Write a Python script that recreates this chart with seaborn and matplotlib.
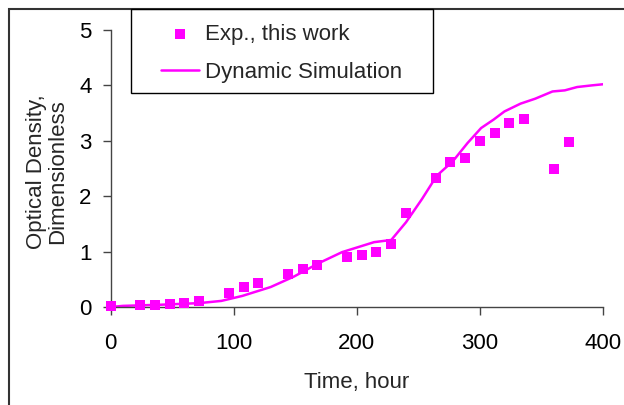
import matplotlib
matplotlib.use("Agg")
import matplotlib.pyplot as plt
import seaborn as sns
import pandas as pd
from matplotlib.patches import Rectangle

# Experimental data
exp_time = [0, 24, 36, 48, 60, 72, 96, 108, 120, 144, 156, 168, 192, 204, 216, 228,
            240, 264, 276, 288, 300, 312, 324, 336, 360, 372]
exp_od = [0.01, 0.03, 0.03, 0.05, 0.08, 0.10, 0.25, 0.36, 0.43, 0.60, 0.69, 0.75,
          0.90, 0.94, 0.99, 1.13, 1.69, 2.32, 2.61, 2.69, 2.99, 3.14, 3.32, 3.40,
          2.49, 2.97]

# Simulation curve
sim_time = [0, 10, 40, 72, 90, 107, 130, 149, 169, 188, 201, 214, 228, 240, 253,
            265, 278, 290, 301, 311, 320, 333, 345, 359, 369, 379, 391, 400]
sim_od = [0.0, 0.02, 0.04, 0.07, 0.11, 0.20, 0.36, 0.55, 0.79, 0.99, 1.08, 1.17,
          1.21, 1.53, 1.95, 2.37, 2.63, 2.96, 3.23, 3.38, 3.53, 3.67, 3.76, 3.89,
          3.91, 3.97, 4.00, 4.02]

x_ticks = [0, 100, 200, 300, 400]
y_ticks = [0, 1, 2, 3, 4, 5]

sns.set_style("ticks")
plt.rcParams['font.family'] = ['Liberation Sans', 'DejaVu Sans']

FS = 16
MAG = "#FF00FF"
fig = plt.figure(figsize=(6.24, 4.05), dpi=100)
ax = fig.add_axes([0.1773, 0.242, 0.789, 0.684])

exp_df = pd.DataFrame({"t": exp_time, "od": exp_od})
sim_df = pd.DataFrame({"t": sim_time, "od": sim_od})

sns.lineplot(data=sim_df, x="t", y="od", ax=ax, color=MAG, linewidth=1.8,
             label="Dynamic Simulation", zorder=2)
sns.scatterplot(data=exp_df, x="t", y="od", ax=ax, color=MAG, marker="s", s=52,
                edgecolor=MAG, linewidth=0, label="Exp., this work", zorder=3,
                clip_on=False)

ax.set_xlim(0, 400)
ax.set_ylim(0, 5)
ax.set_xticks(x_ticks)
ax.set_yticks(y_ticks)
ax.tick_params(axis='both', labelsize=FS, direction='out', length=5.8, width=1,
               color='#444444', labelcolor='black')
ax.tick_params(axis='x', pad=13)
ax.tick_params(axis='y', pad=8)
for s in ['top', 'right']:
    ax.spines[s].set_visible(False)
for s in ['left', 'bottom']:
    ax.spines[s].set_color('#444444')
    ax.spines[s].set_linewidth(1)

ax.set_xlabel("Time, hour", fontsize=FS, labelpad=13)
ax.set_ylabel("Optical Density,\nDimensionless", fontsize=FS, linespacing=1.0)
ax.yaxis.set_label_coords(-0.086, 0.49)

handles, labels = ax.get_legend_handles_labels()
order = [labels.index("Exp., this work"), labels.index("Dynamic Simulation")]
if ax.get_legend():
    ax.get_legend().remove()
leg = fig.legend([handles[i] for i in order], [labels[i] for i in order],
                 loc='upper left', bbox_to_anchor=(161/624, 1 - 24/405),
                 fontsize=FS, frameon=False, borderpad=0, labelspacing=0.75,
                 handlelength=1.7, handletextpad=0.27, borderaxespad=0)

# legend frame
fig.patches.append(Rectangle((131/624, 1 - 93/405), 302/624, 84/405,
                             transform=fig.transFigure, fill=False,
                             edgecolor='black', linewidth=1.0, zorder=5))

# outer figure border (partially visible)
fig.patches.append(Rectangle((9/624, -0.5), 2.0, 0.5 + 1 - 9/405,
                             transform=fig.transFigure, fill=False,
                             edgecolor='#333333', linewidth=1.5))

fig.savefig("out.png", dpi=100)
